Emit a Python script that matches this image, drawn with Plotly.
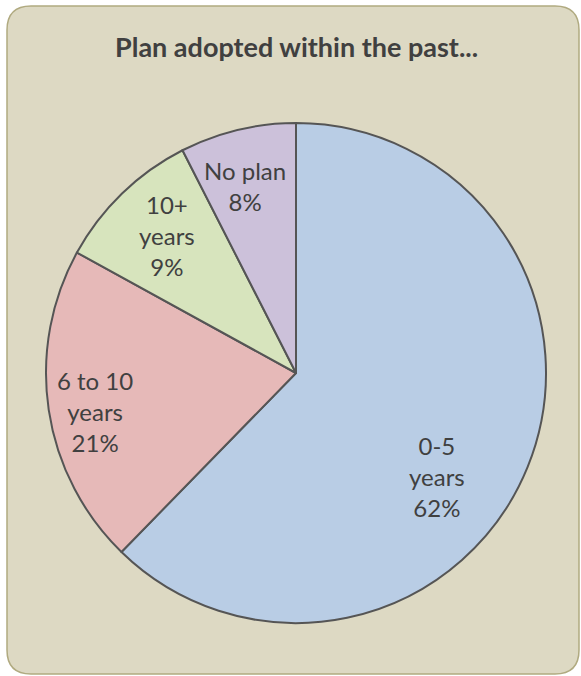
import math
import plotly.graph_objects as go

# ---- data ----
categories = ["0-5 years", "6 to 10 years", "10+ years", "No plan"]
label_text = ["0-5<br>years", "6 to 10<br>years", "10+<br>years", "No plan"]
pct_labels = ["62%", "21%", "9%", "8%"]
values = [62.3, 20.7, 9.5, 7.5]
colors = ["#B9CDE5", "#E6B9B8", "#D7E4BD", "#CCC1DA"]
title_text = "Plan adopted within the past..."

# ---- layout constants ----
W, H = 581, 676
cx, cy, r = 296, 373, 250          # pie centre / radius in px
label_rfrac = [0.70, 0.82, 0.755, 0.775]
label_angle_shift = [14.3, -2.3, 0.9, -1.8]
FONT = "Lato, 'Open Sans', sans-serif"
TXT = "#404040"

fig = go.Figure()
fig.add_trace(go.Pie(
    labels=categories,
    values=values,
    sort=False,
    direction="clockwise",
    rotation=0,
    marker=dict(colors=colors, line=dict(color="#555555", width=2)),
    textinfo="none",
    hoverinfo="label+percent",
    showlegend=False,
    domain=dict(x=[(cx - r) / W, (cx + r) / W],
                y=[1 - (cy + r) / H, 1 - (cy - r) / H]),
))

# labels computed from data (mid angle of each slice)
total = sum(values)
cum = 0.0
annotations = []
for i, v in enumerate(values):
    mid = (cum + v / 2) / total * 360 + label_angle_shift[i]
    cum += v
    rad = math.radians(mid)
    px = cx + label_rfrac[i] * r * math.sin(rad)
    py = cy - label_rfrac[i] * r * math.cos(rad)
    annotations.append(dict(
        x=px / W, y=1 - py / H, xref="paper", yref="paper",
        text=f"{label_text[i]}<br>{pct_labels[i]}", showarrow=False,
        font=dict(family=FONT, size=24, color=TXT),
        xanchor="center", yanchor="middle", align="center",
    ))

annotations.append(dict(
    x=296 / W, y=1 - 47 / H, xref="paper", yref="paper",
    text=f"<b>{title_text}</b>", showarrow=False,
    font=dict(family=FONT, size=27, color=TXT),
    xanchor="center", yanchor="middle",
))

# rounded background box
x0, y0, x1, y1, rr = 7, 6, 579, 674, 24
def P(x, y):
    return f"{x / W:.5f},{1 - y / H:.5f}"
path = (f"M {P(x0 + rr, y0)} L {P(x1 - rr, y0)} Q {P(x1, y0)} {P(x1, y0 + rr)} "
        f"L {P(x1, y1 - rr)} Q {P(x1, y1)} {P(x1 - rr, y1)} "
        f"L {P(x0 + rr, y1)} Q {P(x0, y1)} {P(x0, y1 - rr)} "
        f"L {P(x0, y0 + rr)} Q {P(x0, y0)} {P(x0 + rr, y0)} Z")

fig.update_layout(
    width=W, height=H,
    margin=dict(l=0, r=0, t=0, b=0),
    paper_bgcolor="white",
    plot_bgcolor="white",
    annotations=annotations,
    shapes=[dict(type="path", path=path, xref="paper", yref="paper",
                 fillcolor="#DDD9C3", line=dict(color="#B0AA80", width=1.5),
                 layer="below")],
)

fig.write_html("out.html",
               config={"displayModeBar": False},
               post_script="document.body.style.margin='0';document.body.style.padding='0';")
